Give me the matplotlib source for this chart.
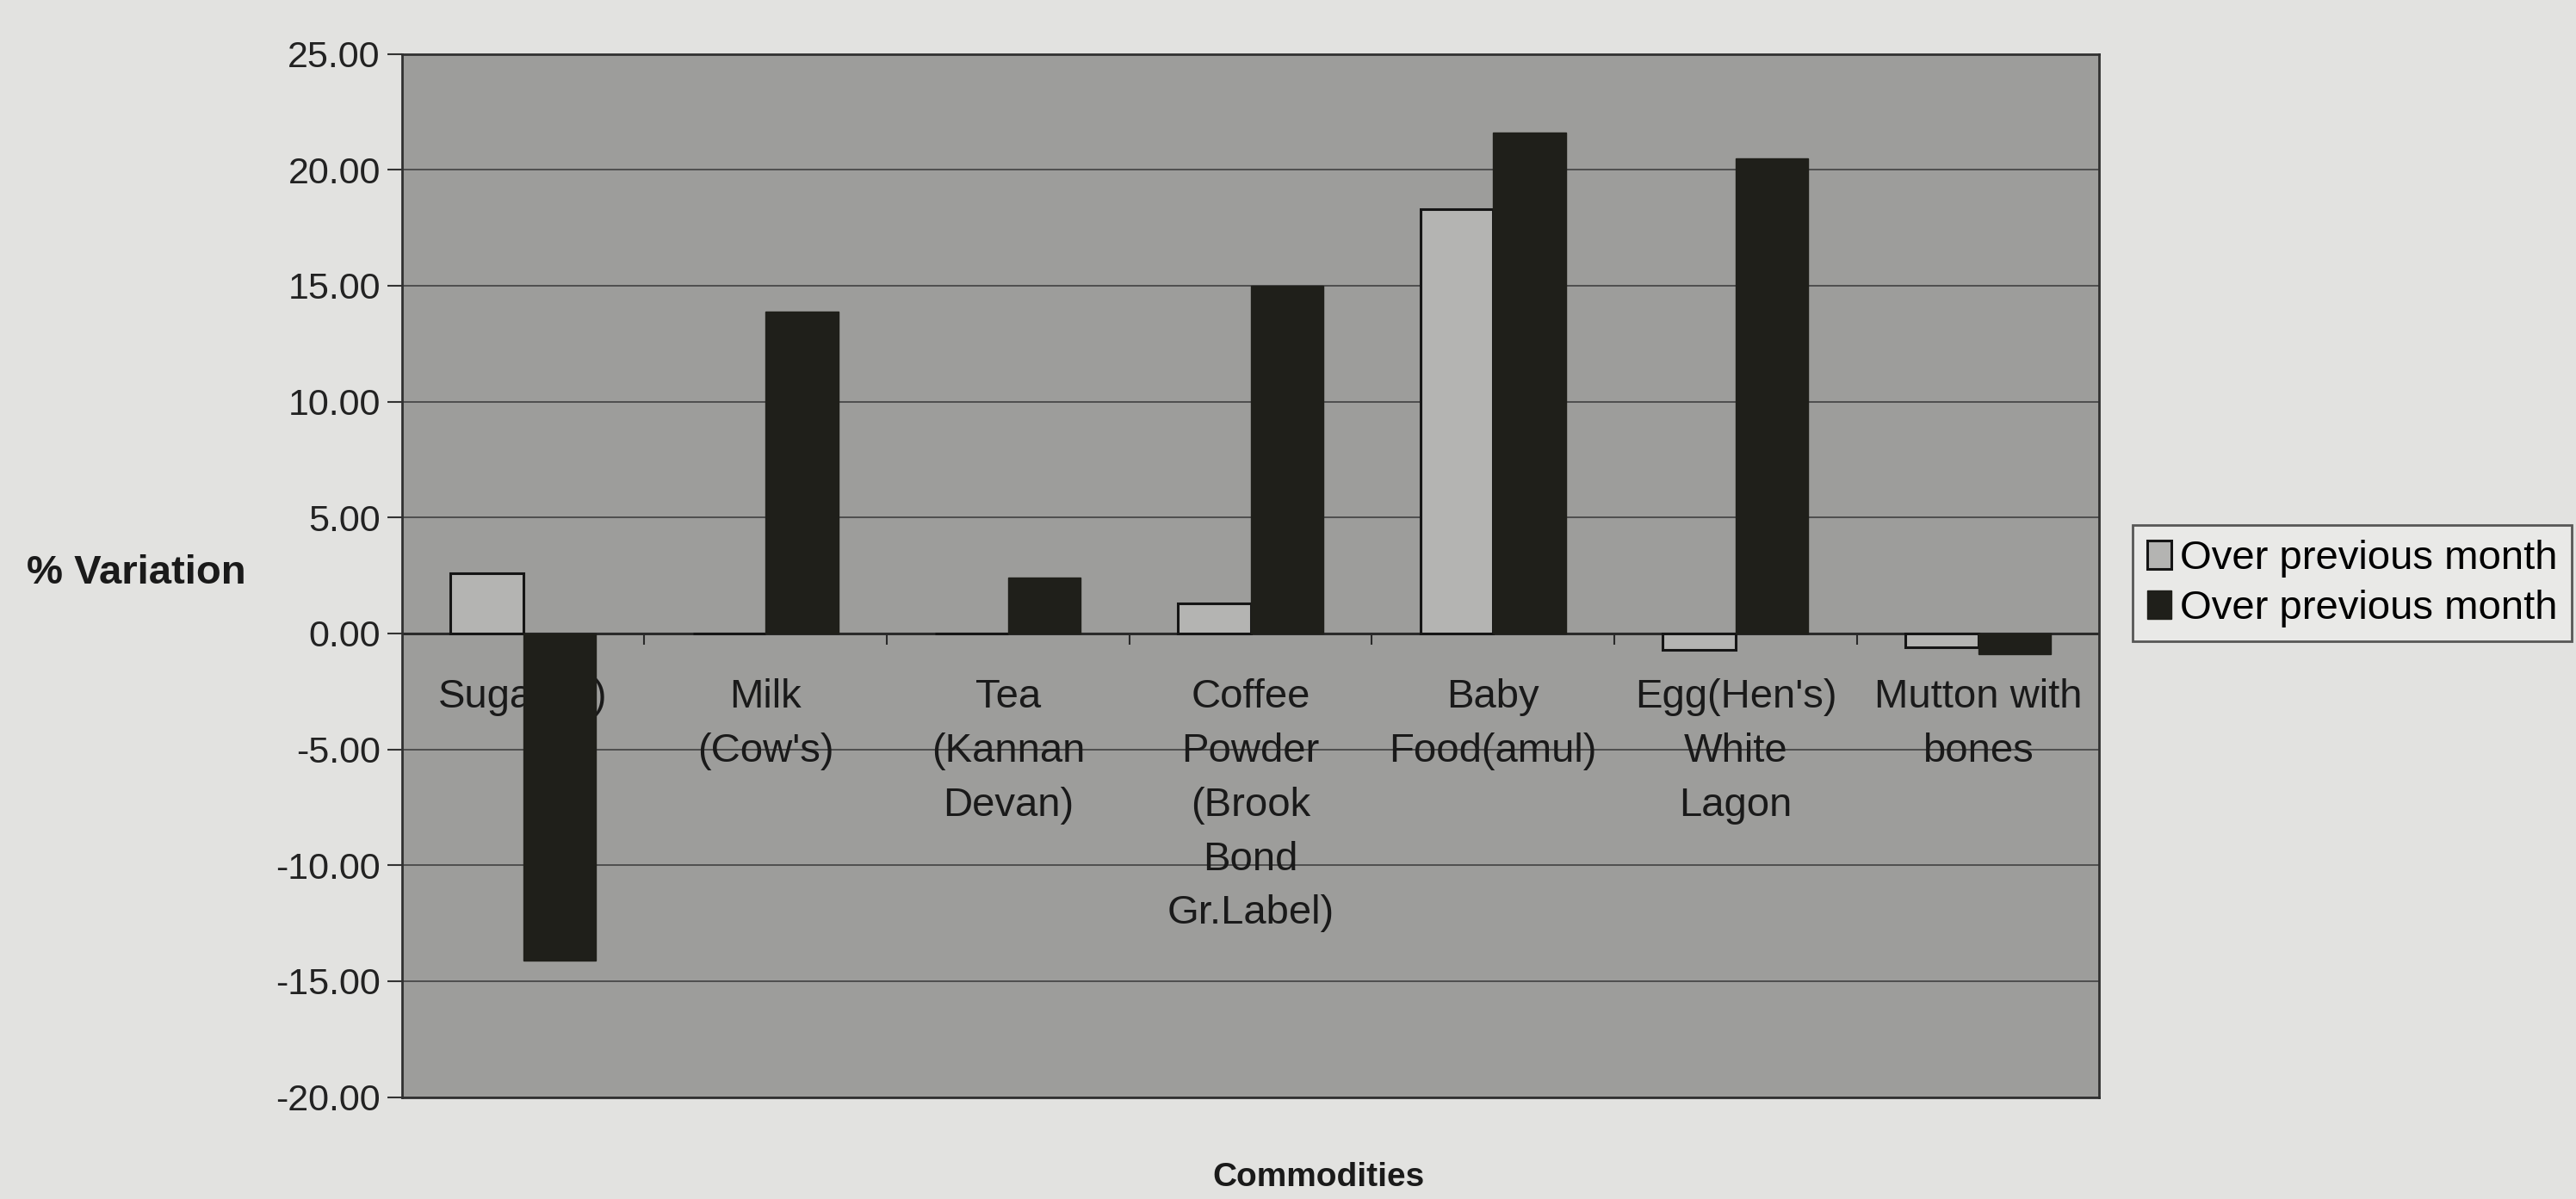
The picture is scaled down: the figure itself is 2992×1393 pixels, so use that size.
import numpy as np
import matplotlib.pyplot as plt

# ── Data ──────────────────────────────────────────────────────────────────────
commodities = ["Sugar(M)", "Milk\n(Cow's)", "Tea\n(Kannan\nDevan)",
               "Coffee\nPowder\n(Brook\nBond\nGr.Label)", "Baby\nFood(amul)",
               "Egg(Hen's)\nWhite\nLagon", "Mutton with\nbones"]
series_names = ["Over previous month", "Over previous month"]
var_light = [2.6, 0.0, 0.0, 1.3, 18.3, -0.7, -0.6]
var_dark = [-14.1, 13.9, 2.4, 15.0, 21.6, 20.5, -0.9]
y_ticks = [-20, -15, -10, -5, 0, 5, 10, 15, 20, 25]

plt.rcParams['font.family'] = ['Liberation Sans', 'DejaVu Sans']

PAGE = '#e2e2e0'
PLOT = '#9d9d9b'
LIGHT = '#b4b4b2'
DARK = '#1f1f1a'

fig = plt.figure(figsize=(29.92, 13.93), dpi=100, facecolor=PAGE)
ax = fig.add_axes([0.156, 0.085, 0.659, 0.87])
ax.set_facecolor(PLOT)

x = np.arange(len(commodities))
w = 0.3
ax.bar(x - w / 2, var_light, w, color=LIGHT, edgecolor='#151515', lw=2.2,
       label=series_names[0], zorder=3)
ax.bar(x + w / 2, var_dark, w, color=DARK, edgecolor=DARK, lw=1,
       label=series_names[1], zorder=3)

ax.set_xlim(-0.5, len(commodities) - 0.5)
ax.set_ylim(-20, 25)
ax.set_yticks(y_ticks)
ax.set_yticklabels([f"{v:.2f}" for v in y_ticks], fontsize=31, color='#222222')
ax.set_xticks([])
ax.tick_params(axis='y', length=12, width=1.5, pad=6, color='#333333')
ax.grid(axis='y', color='#484848', lw=1.3, zorder=1)
for s in ax.spines.values():
    s.set_color('#303030')
    s.set_linewidth(2)

# zero line + category separators (Excel style)
ax.axhline(0, color='#2a2a2a', lw=2.2, zorder=2)
ax.vlines(x[:-1] + 0.5, -0.5, 0, color='#2a2a2a', lw=1.5, zorder=2)

for xi, lbl in zip(x, commodities):
    ax.text(xi, -1.95, lbl, ha='center', va='top', fontsize=34,
            color='#1a1a1a', linespacing=1.55, zorder=2)

fig.text(0.053, 0.522, "% Variation", ha='center', va='center',
         fontsize=34, fontweight='bold', color='#1a1a1a')
fig.text(0.512, 0.018, "Commodities", ha='center', va='center',
         fontsize=28, fontweight='bold', color='#1a1a1a')

leg = fig.legend(loc='upper left', bbox_to_anchor=(0.828, 0.562),
                 fontsize=34, frameon=True, fancybox=False,
                 handlelength=0.6, handleheight=0.7, handletextpad=0.2,
                 borderpad=0.35, labelspacing=0.3, borderaxespad=0)
leg.get_frame().set_facecolor('#ececea')
leg.get_frame().set_edgecolor('#333333')
leg.get_frame().set_linewidth(2)

fig.savefig('out.png', dpi=100, facecolor=PAGE)
